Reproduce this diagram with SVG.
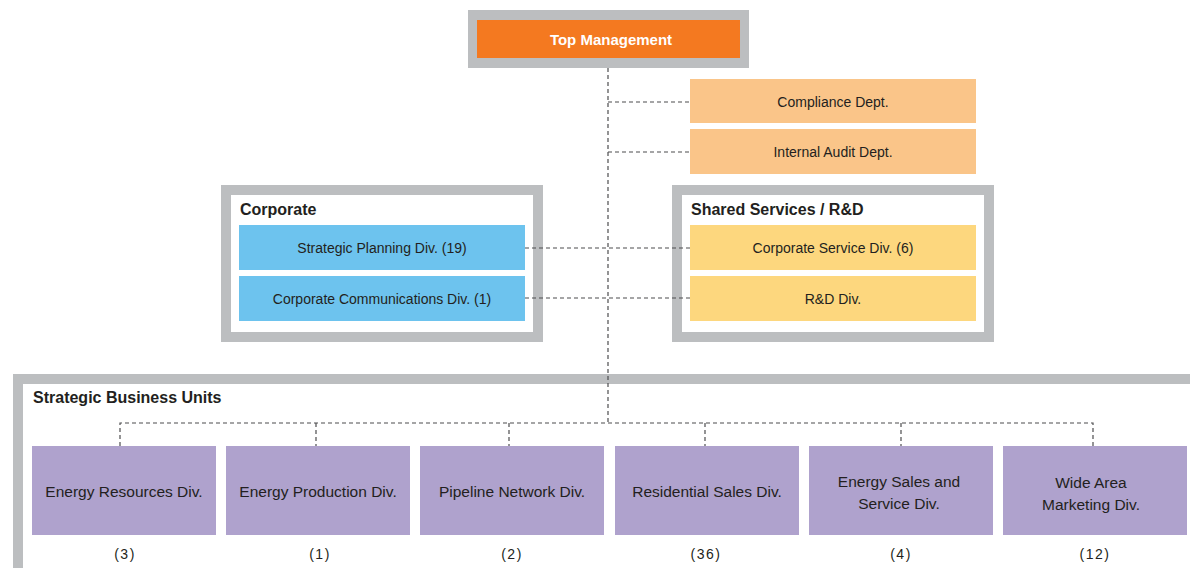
<svg xmlns="http://www.w3.org/2000/svg" width="1190" height="568" viewBox="0 0 1190 568">
<style>
.frame{fill:#fff;stroke:#BCBEC0;stroke-width:10}
.t{font-family:"Liberation Sans",Arial,sans-serif;fill:#231F20;text-anchor:middle}
.title{font-family:"Liberation Sans",Arial,sans-serif;font-weight:bold;font-size:16px;fill:#231F20}
.s14{font-size:14px}
.s15{font-size:15.5px}
.num{font-size:14px;letter-spacing:1.5px}
.dash{fill:none;stroke:#4D4D4F;stroke-width:1.2;stroke-dasharray:4 3}
.orange{fill:#FAC589}
.blue{fill:#6DC3EE}
.yellow{fill:#FDD77E}
.purple{fill:#AFA2CD}
</style>
<rect width="1190" height="568" fill="#fff"/>
<g id="top-management">
<rect x="468" y="10" width="281" height="58" fill="#BCBEC0"/>
<rect x="477" y="20" width="263" height="38" fill="#F47920"/>
<text x="611" y="45" class="t" style="font-weight:bold;font-size:15px;fill:#fff">Top Management</text>
</g>
<g id="compliance-dept">
<rect class="orange" x="690" y="79" width="286" height="44"/>
<text class="t s14" x="833" y="107">Compliance Dept.</text>
</g>
<g id="internal-audit-dept">
<rect class="orange" x="690" y="129" width="286" height="45"/>
<text class="t s14" x="833" y="157">Internal Audit Dept.</text>
</g>
<g id="corporate">
<rect class="frame" x="226" y="190" width="312" height="147"/>
<text class="title" x="240" y="215">Corporate</text>
</g>
<g id="strategic-planning-div">
<rect class="blue" x="239" y="225" width="286" height="45"/>
<text class="t s14" x="382" y="253">Strategic Planning Div. (19)</text>
</g>
<g id="corporate-communications-div">
<rect class="blue" x="239" y="276" width="286" height="45"/>
<text class="t s14" x="382" y="304">Corporate Communications Div. (1)</text>
</g>
<g id="shared-services">
<rect class="frame" x="677" y="190" width="312" height="147"/>
<text class="title" x="691" y="215">Shared Services / R&amp;D</text>
</g>
<g id="corporate-service-div">
<rect class="yellow" x="690" y="225" width="286" height="45"/>
<text class="t s14" x="833" y="253">Corporate Service Div. (6)</text>
</g>
<g id="rd-div">
<rect class="yellow" x="690" y="276" width="286" height="45"/>
<text class="t s14" x="833" y="304">R&amp;D Div.</text>
</g>
<g id="strategic-business-units">
<rect class="frame" x="18" y="379" width="1200" height="220"/>
<text class="title" x="33" y="403">Strategic Business Units</text>
</g>
<g id="energy-resources-div">
<rect class="purple" x="32" y="446" width="184" height="89"/>
<text class="t s15" x="124" y="497">Energy Resources Div.</text>
<text class="t num" x="125" y="559">(3)</text>
</g>
<g id="energy-production-div">
<rect class="purple" x="226" y="446" width="184" height="89"/>
<text class="t s15" x="318" y="497">Energy Production Div.</text>
<text class="t num" x="320" y="559">(1)</text>
</g>
<g id="pipeline-network-div">
<rect class="purple" x="420" y="446" width="184" height="89"/>
<text class="t s15" x="512" y="497">Pipeline Network Div.</text>
<text class="t num" x="512" y="559">(2)</text>
</g>
<g id="residential-sales-div">
<rect class="purple" x="615" y="446" width="184" height="89"/>
<text class="t s15" x="707" y="497">Residential Sales Div.</text>
<text class="t num" x="706" y="559">(36)</text>
</g>
<g id="energy-sales-service-div">
<rect class="purple" x="809" y="446" width="184" height="89"/>
<text class="t s15" x="899" y="487">Energy Sales and</text>
<text class="t s15" x="899" y="509">Service Div.</text>
<text class="t num" x="901" y="559">(4)</text>
</g>
<g id="wide-area-marketing-div">
<rect class="purple" x="1003" y="446" width="184" height="89"/>
<text class="t s15" x="1091" y="488">Wide Area</text>
<text class="t s15" x="1091" y="510">Marketing Div.</text>
<text class="t num" x="1095" y="559">(12)</text>
</g>
<g id="connectors">
<path class="dash" d="M608 68V423"/>
<path class="dash" d="M608 102H690M608 152H690"/>
<path class="dash" d="M525 248H690M525 298H690"/>
<path class="dash" d="M120 446V423H1093V446"/>
<path class="dash" d="M316 423V446M509 423V446M705 423V446M901 423V446"/>
</g>
</svg>
